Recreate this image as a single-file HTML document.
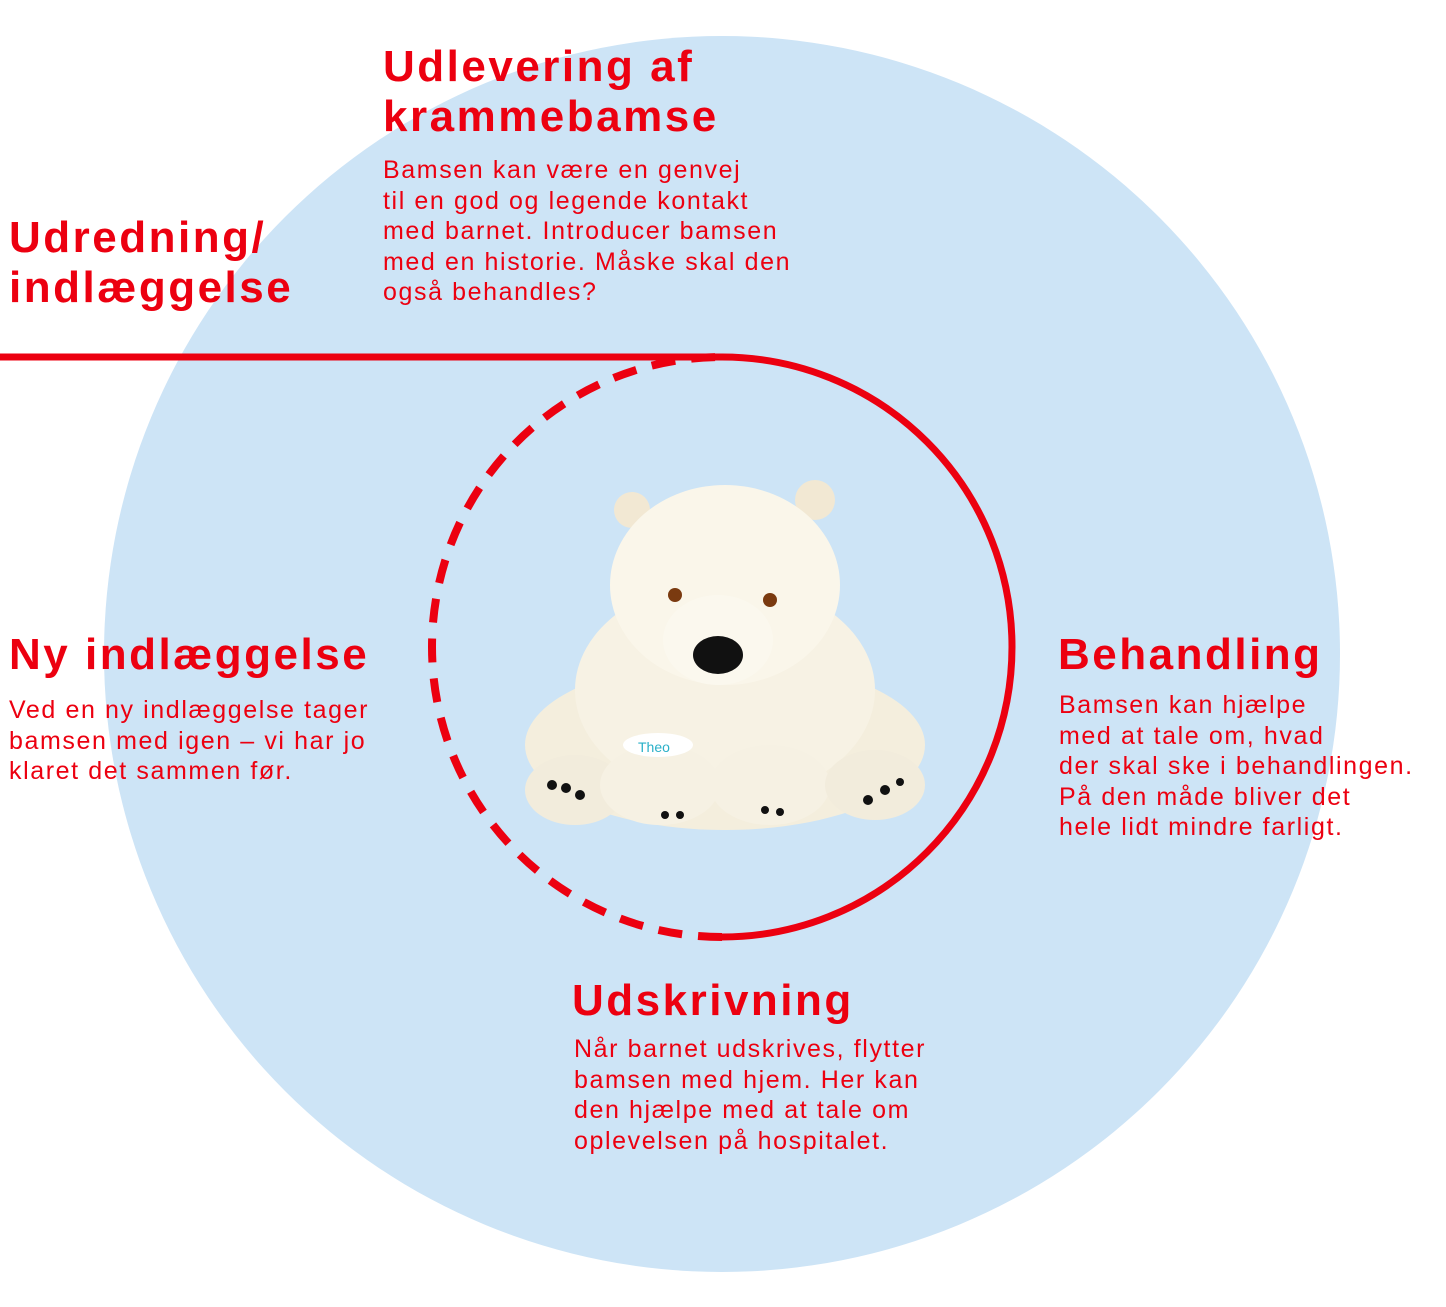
<!DOCTYPE html>
<html><head><meta charset="utf-8"><style>
body{margin:0;width:1446px;height:1307px;background:#fff;position:relative;overflow:hidden;font-family:"Liberation Sans",sans-serif;color:#ec0010}
.h{position:absolute;font-weight:bold;font-size:44px;line-height:50px;letter-spacing:2.5px;white-space:nowrap}
.t{position:absolute;font-size:25px;line-height:30.5px;letter-spacing:1.6px;white-space:nowrap}
svg{position:absolute;left:0;top:0}
</style></head><body>
<svg width="1446" height="1307">
<circle cx="722" cy="654" r="618" fill="#cde4f6"/>
<path d="M0 357 L722 357 A290 290 0 0 1 722 937" fill="none" stroke="#ec0010" stroke-width="7"/>
<path d="M722 937 A290 290 0 0 1 722 357" fill="none" stroke="#ec0010" stroke-width="8" stroke-dasharray="24 16"/>
<g>
<ellipse cx="725" cy="745" rx="200" ry="85" fill="#f4eedd"/>
<ellipse cx="725" cy="690" rx="150" ry="110" fill="#f7f2e4"/>
<circle cx="632" cy="510" r="18" fill="#f2e8d3"/>
<circle cx="815" cy="500" r="20" fill="#f2e8d3"/>
<ellipse cx="725" cy="585" rx="115" ry="100" fill="#faf6ea"/>
<ellipse cx="718" cy="640" rx="55" ry="45" fill="#fbf8ee"/>
<ellipse cx="718" cy="655" rx="25" ry="19" fill="#111"/>
<circle cx="675" cy="595" r="7" fill="#7a3a10"/>
<circle cx="770" cy="600" r="7" fill="#7a3a10"/>
<ellipse cx="575" cy="790" rx="50" ry="35" fill="#f2ecdc"/>
<ellipse cx="660" cy="785" rx="60" ry="40" fill="#f6f1e3"/>
<ellipse cx="770" cy="785" rx="60" ry="40" fill="#f6f1e3"/>
<ellipse cx="875" cy="785" rx="50" ry="35" fill="#f2ecdc"/>
<ellipse cx="658" cy="745" rx="35" ry="12" fill="#fff"/>
<text x="638" y="752" font-size="14" fill="#2ab0c8" font-family="Liberation Sans">Theo</text>
<g fill="#111"><circle cx="552" cy="785" r="5"/><circle cx="566" cy="788" r="5"/><circle cx="580" cy="795" r="5"/><circle cx="665" cy="815" r="4"/><circle cx="680" cy="815" r="4"/><circle cx="765" cy="810" r="4"/><circle cx="780" cy="812" r="4"/><circle cx="868" cy="800" r="5"/><circle cx="885" cy="790" r="5"/><circle cx="900" cy="782" r="4"/></g>
</g>
</svg>
<div class="h" style="left:383px;top:42px">Udlevering af<br>krammebamse</div>
<div class="t" style="left:383px;top:155px">Bamsen kan være en genvej<br>til en god og legende kontakt<br>med barnet. Introducer bamsen<br>med en historie. Måske skal den<br>også behandles?</div>
<div class="h" style="left:9px;top:213px">Udredning/<br>indlæggelse</div>
<div class="h" style="left:9px;top:630px">Ny indlæggelse</div>
<div class="t" style="left:9px;top:695px">Ved en ny indlæggelse tager<br>bamsen med igen – vi har jo<br>klaret det sammen før.</div>
<div class="h" style="left:1058px;top:630px">Behandling</div>
<div class="t" style="left:1059px;top:690px">Bamsen kan hjælpe<br>med at tale om, hvad<br>der skal ske i behandlingen.<br>På den måde bliver det<br>hele lidt mindre farligt.</div>
<div class="h" style="left:572px;top:976px">Udskrivning</div>
<div class="t" style="left:574px;top:1034px">Når barnet udskrives, flytter<br>bamsen med hjem. Her kan<br>den hjælpe med at tale om<br>oplevelsen på hospitalet.</div>
</body></html>
